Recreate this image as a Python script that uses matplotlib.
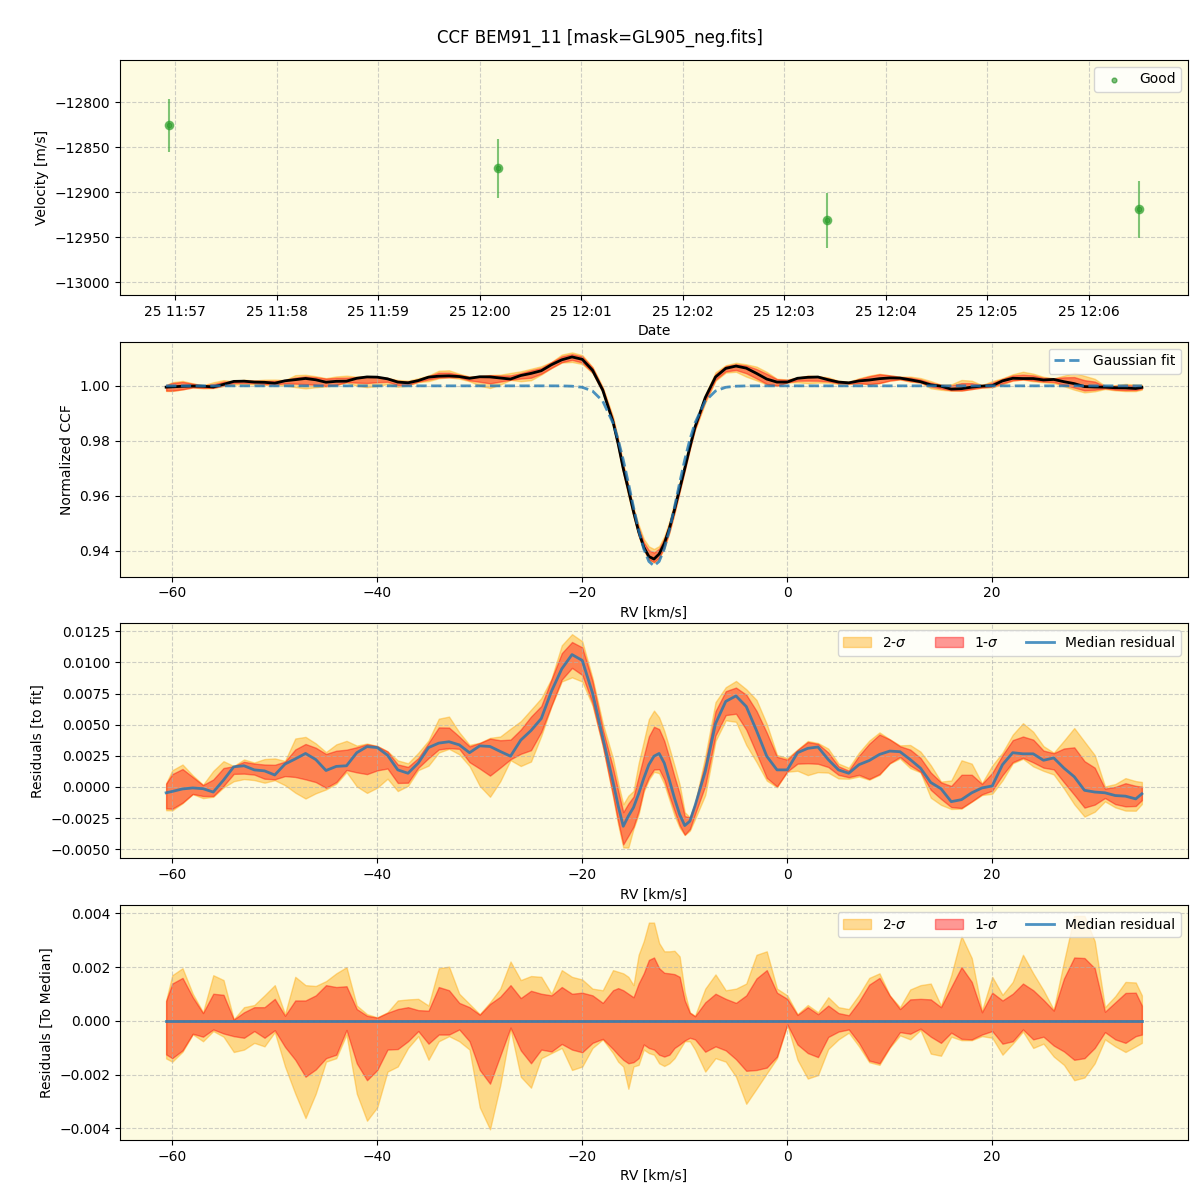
import numpy as np
import matplotlib.pyplot as plt
import matplotlib.dates as mdates
from datetime import datetime

# --- RV time series (top panel) ---
obs_times = ["2023-01-25 11:56:56", "2023-01-25 12:00:11",
             "2023-01-25 12:03:25", "2023-01-25 12:06:30"]
velocity = [-12825.6, -12873.3, -12931.0, -12919.0]
velocity_err = [29.5, 33.0, 30.5, 31.5]

# --- CCF grid (km/s), 1 km/s steps ---
rv_grid = np.arange(-60, 35)

# gaussian fit of the CCF, read on the rv grid
fit_ccf = [1.0] * 38 + [
    0.99998, 0.99988, 0.99948, 0.99813, 0.99446, 0.98653, 0.97312, 0.95594,
    0.94075, 0.93460, 0.94075, 0.95594, 0.97312, 0.98653, 0.99446, 0.99813,
    0.99948, 0.99988, 0.99998] + [1.0] * 38

# median residual to fit (units of 1e-3)
median_resid = [
    -0.36, -0.16, -0.08, -0.14, -0.41, 0.55, 1.62, 1.70, 1.37, 1.29,
    0.96, 1.84, 2.25, 2.69, 2.20, 1.32, 1.65, 1.70, 2.75, 3.24,
    3.16, 2.55, 1.37, 1.10, 1.92, 3.16, 3.52, 3.63, 3.38, 2.75,
    3.30, 3.25, 2.85, 2.47, 3.76, 4.53, 5.49, 7.69, 9.48, 10.63,
    10.16, 7.55, 3.98, 0.41, -3.16, -1.65, 0.69, 2.47, 1.92, -0.91,
    -3.10, -1.51, 1.24, 5.08, 6.87, 7.31, 6.46, 4.53, 2.47, 1.37,
    1.37, 2.75, 3.10, 3.21, 2.20, 1.37, 1.10, 1.79, 2.12, 2.61,
    2.88, 2.83, 2.20, 1.51, 0.36, -0.14, -1.18, -1.02, -0.47, -0.08,
    0.08, 1.79, 2.75, 2.66, 2.66, 2.14, 2.33, 1.51, 0.82, -0.27,
    -0.41, -0.47, -0.69, -0.74, -0.96]

# spread around the median (units of 1e-3)
hi2 = [
    1.70, 1.96, 1.01, 0.32, 1.70, 1.52, 0.06, 0.51, 0.59, 0.95,
    1.33, 0.25, 1.64, 1.33, 1.30, 1.48, 1.77, 2.00, 0.57, 0.25,
    0.13, 0.32, 0.76, 0.80, 0.82, 0.57, 1.96, 2.02, 1.01, 0.63,
    0.25, 0.69, 1.20, 2.21, 1.52, 1.67, 1.64, 1.01, 1.89, 1.64,
    1.54, 1.20, 1.14, 1.89, 1.77, 1.33, 2.97, 3.66, 2.59, 2.61,
    1.07, 0.19, 1.20, 1.73, 1.14, 1.20, 1.39, 2.46, 2.59, 1.20,
    0.95, 0.25, 0.59, 0.32, 0.88, 0.51, 0.44, 0.97, 1.60, 1.77,
    0.95, 0.51, 1.17, 1.33, 1.39, 0.57, 1.70, 3.16, 2.34, 0.38,
    1.64, 0.97, 1.45, 2.46, 1.77, 1.14, 0.42, 2.21, 3.91, 3.91,
    2.97, 0.51, 0.92, 1.45, 1.43]
hi1 = [
    1.39, 1.60, 0.88, 0.29, 1.01, 0.97, 0.05, 0.32, 0.51, 0.51,
    0.82, 0.19, 0.76, 0.76, 0.95, 1.33, 1.26, 1.29, 0.44, 0.19,
    0.12, 0.30, 0.44, 0.51, 0.40, 0.38, 1.26, 1.14, 0.67, 0.51,
    0.23, 0.63, 0.90, 1.33, 0.85, 1.12, 1.01, 0.95, 1.26, 1.01,
    1.05, 0.95, 0.67, 1.14, 1.14, 0.88, 1.77, 2.36, 1.79, 1.74,
    0.76, 0.17, 0.69, 1.01, 0.82, 0.67, 0.95, 1.58, 1.89, 1.05,
    0.82, 0.22, 0.51, 0.25, 0.57, 0.29, 0.21, 0.72, 1.35, 1.60,
    0.94, 0.44, 0.80, 0.82, 0.80, 0.51, 1.26, 2.00, 1.45, 0.32,
    1.05, 0.76, 1.01, 1.39, 1.14, 0.78, 0.38, 1.58, 2.36, 2.34,
    1.96, 0.34, 0.69, 1.04, 1.05]
lo1 = [
    -1.39, -1.10, -0.48, -0.59, -0.32, -0.47, -0.57, -0.63, -0.38, -0.63,
    -0.35, -0.97, -1.45, -2.08, -1.81, -1.39, -1.26, -0.34, -1.58, -2.21,
    -1.83, -1.07, -1.05, -0.76, -0.38, -0.85, -0.51, -0.51, -0.32, -0.76,
    -1.83, -2.34, -1.30, -0.25, -1.10, -1.58, -1.07, -1.14, -0.86, -1.07,
    -1.17, -0.82, -0.67, -1.05, -1.45, -1.54, -0.88, -1.07, -1.33, -1.01,
    -0.73, -0.69, -1.15, -0.95, -1.10, -1.43, -1.86, -1.83, -1.74, -1.33,
    -0.13, -0.88, -1.20, -1.35, -0.60, -0.40, -0.32, -0.82, -1.48, -1.58,
    -0.97, -0.42, -0.48, -0.29, -0.59, -0.82, -0.44, -0.67, -0.69, -0.51,
    -0.38, -0.85, -0.76, -0.32, -0.69, -0.59, -0.92, -1.14, -1.45, -1.39,
    -1.01, -0.42, -0.69, -0.82, -0.57]
lo2 = [
    -1.52, -1.15, -0.50, -0.76, -0.38, -0.59, -1.16, -1.07, -0.82, -0.95,
    -0.42, -1.70, -2.71, -3.62, -2.71, -1.52, -1.39, -0.51, -2.71, -3.72,
    -3.22, -1.89, -1.70, -1.01, -0.57, -1.45, -0.76, -0.57, -0.76, -1.07,
    -3.22, -4.04, -2.40, -0.32, -2.08, -2.49, -1.39, -1.20, -1.01, -1.83,
    -1.70, -1.01, -0.69, -1.20, -1.70, -1.70, -1.07, -1.26, -1.68, -1.39,
    -0.76, -1.07, -1.89, -1.39, -1.52, -2.08, -3.09, -2.53, -1.96, -1.39,
    -0.15, -1.45, -2.15, -2.02, -1.05, -0.69, -0.44, -0.95, -1.54, -1.64,
    -1.00, -0.54, -0.69, -0.34, -1.22, -1.30, -0.59, -0.72, -0.72, -0.57,
    -0.63, -1.26, -0.85, -0.40, -1.01, -0.85, -1.33, -1.64, -2.21, -2.11,
    -1.58, -0.69, -0.95, -1.16, -0.95]

# extra samples: the two ends and the half steps in the line core
rv_extra = [-60.6, -16.5, -15.5, -14.5, -13.5, -12.5, -11.5, -10.5, -9.5, 34.6]
fit_extra = [1.0, 0.98051, 0.96472, 0.94763, 0.93620, 0.93620, 0.94763,
             0.96472, 0.98051, 1.0]
median_extra = [-0.47, -1.50, -2.34, -0.55, 1.79, 2.69, 0.55, -2.20, -2.75, -0.55]
hi2_extra = [0.76, 1.83, 1.64, 2.46, 3.66, 2.90, 2.59, 2.40, 0.32, 0.95]
hi1_extra = [0.74, 1.22, 1.01, 1.39, 2.27, 1.96, 1.77, 1.64, 0.30, 0.57]
lo1_extra = [-1.25, -1.26, -1.58, -1.39, -1.01, -1.26, -1.26, -0.88, -0.63, -0.51]
lo2_extra = [-1.40, -1.52, -2.53, -1.64, -1.20, -1.58, -1.58, -1.07, -0.76, -0.82]

rv_all = np.concatenate([rv_grid, rv_extra])
order = np.argsort(rv_all)
rv = rv_all[order]


def merged(main, extra, scale=1.0):
    return np.concatenate([main, extra])[order] * scale


fit = merged(fit_ccf, fit_extra)
med = merged(median_resid, median_extra, 1e-3)
h2 = merged(hi2, hi2_extra, 1e-3)
h1 = merged(hi1, hi1_extra, 1e-3)
l1 = merged(lo1, lo1_extra, 1e-3)
l2 = merged(lo2, lo2_extra, 1e-3)
ccf = fit + med

bg = '#fdfbe1'
fig, axes = plt.subplots(4, 1, figsize=(12, 12), dpi=100)
fig.subplots_adjust(left=0.1, right=0.99, top=0.95, bottom=0.05, hspace=0.2)
fig.suptitle("CCF BEM91_11 [mask=GL905_neg.fits]", fontsize=12, y=0.976)

for ax in axes:
    ax.set_facecolor(bg)
    ax.grid(True, linestyle='--', alpha=0.6)

# top panel: velocities
ax = axes[0]
t = [datetime.strptime(s, "%Y-%m-%d %H:%M:%S") for s in obs_times]
ax.errorbar(t, velocity, yerr=velocity_err, fmt='o', color='tab:green',
            alpha=0.6, ms=6)
ax.scatter(t, velocity, s=12, color='green', alpha=0.5, label='Good')
ax.set_ylim(-13014, -12753)
ax.xaxis.set_major_locator(mdates.MinuteLocator(interval=1))
ax.xaxis.set_major_formatter(mdates.DateFormatter('%d %H:%M'))
ax.set_xlabel("Date")
ax.set_ylabel("Velocity [m/s]")
ax.legend(loc='upper right')

# CCF panel
ax = axes[1]
ax.fill_between(rv, ccf + l2, ccf + h2, color='orange', alpha=0.4)
ax.fill_between(rv, ccf + l1, ccf + h1, color='red', alpha=0.4)
ax.plot(rv, ccf, color='k', lw=2)
ax.plot(rv, fit, '--', color='tab:blue', lw=2, alpha=0.8, label='Gaussian fit')
ax.set_xlabel("RV [km/s]")
ax.set_ylabel("Normalized CCF")
ax.legend(loc='upper right')

# residuals to fit
ax = axes[2]
ax.fill_between(rv, med + l2, med + h2, color='orange', alpha=0.4, label='2-$\\sigma$')
ax.fill_between(rv, med + l1, med + h1, color='red', alpha=0.4, label='1-$\\sigma$')
ax.plot(rv, med, color='tab:blue', lw=2, alpha=0.8, label='Median residual')
ax.set_xlabel("RV [km/s]")
ax.set_ylabel("Residuals [to fit]")
ax.legend(loc='upper right', ncol=3)

# residuals to median
ax = axes[3]
ax.fill_between(rv, l2, h2, color='orange', alpha=0.4, label='2-$\\sigma$')
ax.fill_between(rv, l1, h1, color='red', alpha=0.4, label='1-$\\sigma$')
ax.plot(rv, med - med, color='tab:blue', lw=2, alpha=0.8, label='Median residual')
ax.set_xlabel("RV [km/s]")
ax.set_ylabel("Residuals [To Median]")
ax.legend(loc='upper right', ncol=3)

for ax in axes[1:]:
    ax.set_xlim(-65.1, 39.1)

fig.savefig("out.png")
